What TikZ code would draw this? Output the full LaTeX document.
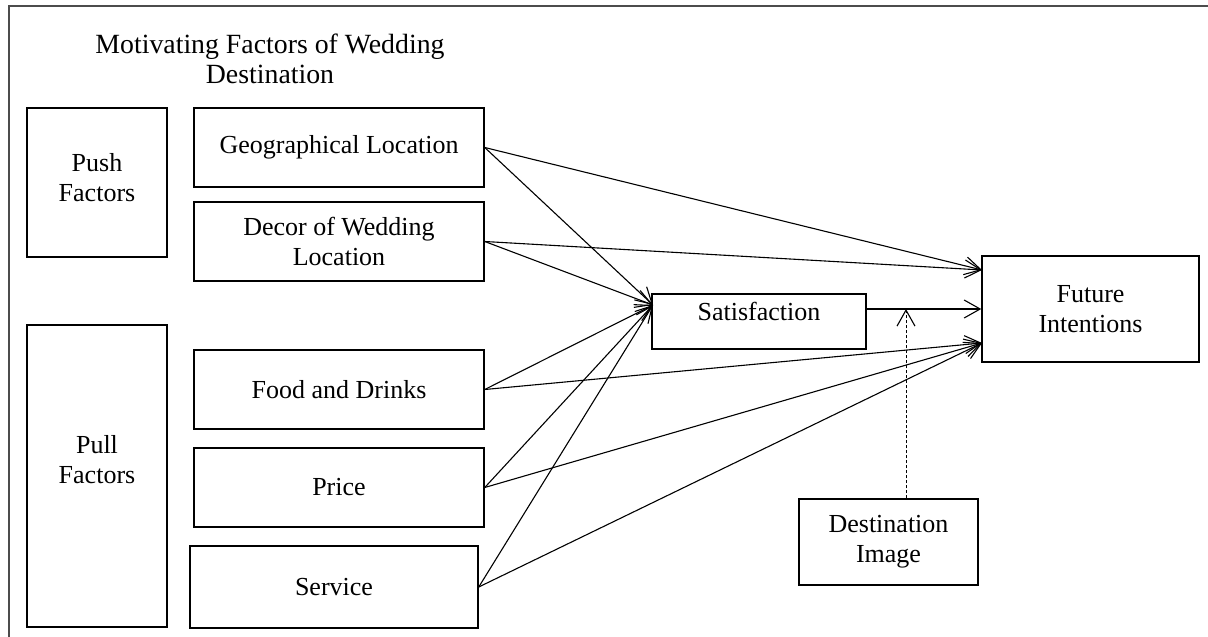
\documentclass[tikz,border=0pt]{standalone}
\usepackage{fontspec}
\setmainfont{Liberation Serif}
\usetikzlibrary{arrows.meta}
\begin{document}
\begin{tikzpicture}[x=1pt,y=-1pt,
  txt/.style={font=\fontsize{26}{30}\selectfont, align=center},
  box/.style={draw, line width=1.5pt, inner sep=0pt, txt},
  conn/.style={line width=1.1pt, -{Straight Barb[length=16pt,width=18pt,line width=1.1pt]}},
  dconn/.style={line width=0.9pt, dash pattern=on 3pt off 2pt, -{Straight Barb[length=16pt,width=18pt,line width=1.1pt,sep=0pt]}},
  frame/.style={draw=black!70, line width=1.6pt}
]
\useasboundingbox (0,0) rectangle (1208,637);
\draw[frame] (9,645) -- (9,6) -- (1215,6);

\node[txt, font=\fontsize{27.8}{30}\selectfont] (title) at (270,59) {Motivating Factors of Wedding\\Destination};

\node[box, line width=2.4pt, minimum width=140pt, minimum height=149pt,
      label={[txt,yshift=5pt,name=pushlbl]center:Push\\Factors}] (push) at (97,182.5) {};
\node[box, line width=1.1pt, minimum width=140pt, minimum height=302pt,
      label={[txt,yshift=16pt,name=pulllbl]center:Pull\\Factors}] (pull) at (97,476) {};

\node[box, minimum width=290pt, minimum height=79pt] (geo) at (339,147.5) {Geographical Location};
\node[box, minimum width=290pt, minimum height=79pt] (decor) at (339,241.5) {Decor of Wedding\\Location};
\node[box, minimum width=290pt, minimum height=79pt] (food) at (339,389.5) {Food and Drinks};
\node[box, minimum width=290pt, minimum height=79pt] (price) at (339,487.5) {Price};
\node[box, minimum width=288pt, minimum height=82pt] (service) at (334,587) {Service};

\node[box, minimum width=214pt, minimum height=55pt,
      label={[txt,yshift=10pt,name=satlbl]center:Satisfaction}] (sat) at (759,321.5) {};
\node[box, minimum width=217pt, minimum height=106pt] (fi) at (1090.5,309) {Future\\Intentions};
\node[box, minimum width=179pt, minimum height=86pt] (di) at (888.5,542) {Destination\\Image};

\coordinate (satin) at (653,305);
\coordinate (fiup) at (982,270);
\coordinate (fidown) at (982,343);
\coordinate (dtop) at (906,309);

\foreach \s in {geo,decor,food,price,service}
  \draw[conn] (\s.east) -- (satin);
\draw[conn] (geo.east) -- (fiup);
\draw[conn] (decor.east) -- (fiup);
\draw[conn] (food.east) -- (fidown);
\draw[conn] (price.east) -- (fidown);
\draw[conn] (service.east) -- (fidown);
\draw[conn] (sat.east |- fi.west) -- (fi.west);
\draw[dconn] (di.north -| dtop) -- (dtop);
\end{tikzpicture}
\end{document}
